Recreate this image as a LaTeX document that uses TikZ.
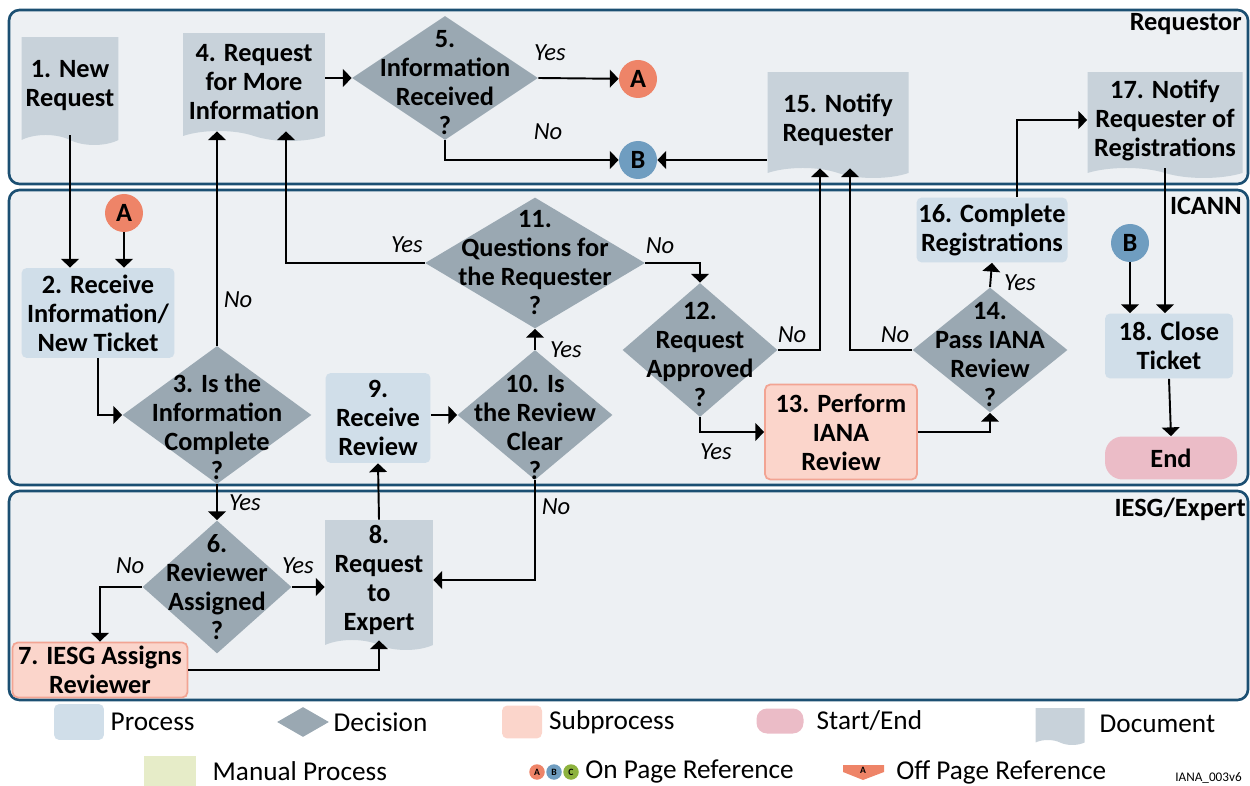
\documentclass[tikz,border=0pt]{standalone}
\usepackage{fontspec}
\setmainfont{Carlito}
\usetikzlibrary{shapes.geometric,shapes.symbols,arrows.meta,positioning}

\definecolor{lanefill}{HTML}{EDF0F3}
\definecolor{laneline}{HTML}{1B4F72}
\definecolor{procfill}{HTML}{D0DEE9}
\definecolor{docfill}{HTML}{C8D2DA}
\definecolor{decfill}{HTML}{9AA8B2}
\definecolor{subfill}{HTML}{FBD5CB}
\definecolor{subline}{HTML}{F2A493}
\definecolor{endfill}{HTML}{EBBCC7}
\definecolor{refA}{HTML}{EE8468}
\definecolor{refB}{HTML}{6F9DC0}
\definecolor{refC}{HTML}{8DB23E}
\definecolor{manfill}{HTML}{E6ECC8}

% diamond text: no size of its own, so the diamond keeps its given size
\newcommand{\dtext}[2][0pt]{\makebox[0pt]{\smash{\raisebox{\dimexpr-7.5pt-#1\relax}{\begin{tabular}{@{}c@{}}#2\end{tabular}}}}}

\tikzset{
	lane/.style={draw=laneline, line width=1.5pt, fill=lanefill, rounded corners=6pt},
	box/.style={font=\fontsize{15}{16.5}\selectfont\bfseries, align=center, inner sep=1pt},
	proc/.style={box, fill=procfill, rounded corners=3pt},
	doc/.style={box, tape, tape bend top=none, tape bend bottom=out and in, tape bend height=0.2cm, fill=docfill},
	dec/.style={diamond, fill=decfill, inner sep=0pt, font=\fontsize{15}{16.5}\selectfont\bfseries},
	sub/.style={box, fill=subfill, draw=subline, line width=1pt, rounded corners=3pt},
	term/.style={box, fill=endfill, rounded corners=10pt},
	ref/.style={circle, font=\fontsize{15}{16}\selectfont\bfseries, minimum size=0.76cm, inner sep=0pt},
	minref/.style={circle, font=\fontsize{5.5}{6}\selectfont\bfseries, minimum size=0.31cm, inner sep=0pt},
	yn/.style={font=\fontsize{14}{16}\selectfont\itshape, inner sep=1pt},
	flow/.style={line width=1.1pt, -{Triangle[width=10pt,length=5pt]}},
	lanetitle/.style={font=\fontsize{15}{16}\selectfont\bfseries, anchor=east, inner sep=0pt},
	legtext/.style={font=\fontsize{15.5}{17}\selectfont, inner sep=0pt}
}

\begin{document}
\begin{tikzpicture}[x=0.02cm,y=-0.02cm]
	\useasboundingbox (0,0) rectangle (1250,786);
	% swim lanes
	\draw[lane] (9,10) rectangle (1248,184);
	\draw[lane] (9,190) rectangle (1248,485);
	\draw[lane] (9,491) rectangle (1248,700);
	\node[lanetitle] (tReq) at (1242,24) {Requestor};
	\node[lanetitle] (tIcann) at (1242,206) {ICANN};
	\node[lanetitle] (tIesg) at (1246,509) {IESG/Expert};

	% Requestor
	\node[doc, minimum width=1.94cm, minimum height=2.16cm] (n1) at (70,86) {1. New\\Request};
	\node[doc, minimum width=2.84cm, minimum height=2.16cm] (n4) at (254,82) {4. Request\\for More\\Information};
	\node[dec, minimum width=3.72cm, minimum height=2.48cm] (n5) at (445,78) {\dtext{5.\\Information\\Received\\?}};
	\node[ref, fill=refA] (rA) at (638,79) {A};
	\node[ref, fill=refB] (rB) at (638,160) {B};
	\node[doc, minimum width=2.82cm, minimum height=2.12cm] (n15) at (838,120) {15. Notify\\Requester};
	\node[doc, minimum width=3.1cm, minimum height=2.12cm] (n17) at (1165,120) {17. Notify\\Requester of\\Registrations};

	% ICANN
	\node[ref, fill=refA] (rA2) at (124,213) {A};
	\node[proc, minimum width=3.06cm, minimum height=1.8cm] (n2) at (98,313) {2. Receive\\Information/\\New Ticket};
	\node[dec, minimum width=3.78cm, minimum height=2.76cm] (n3) at (217,415) {\dtext[4.5pt]{3. Is the\\Information\\Complete\\?}};
	\node[proc, minimum width=2.1cm, minimum height=1.8cm] (n9) at (378,418) {9.\\Receive\\Review};
	\node[dec, minimum width=3.1cm, minimum height=2.6cm] (n10) at (535,415) {\dtext[4.5pt]{10. Is\\the Review\\Clear\\?}};
	\node[dec, minimum width=4.4cm, minimum height=2.62cm] (n11) at (535,263) {\dtext[-2.5pt]{11.\\Questions for\\the Requester\\?}};
	\node[dec, minimum width=3.1cm, minimum height=2.68cm] (n12) at (700,350) {\dtext{12.\\Request\\Approved\\?}};
	\node[sub, minimum width=3.04cm, minimum height=1.9cm] (n13) at (841,432) {13. Perform\\IANA\\Review};
	\node[dec, minimum width=3.1cm, minimum height=2.5cm] (n14) at (990,350) {\dtext{14.\\Pass IANA\\Review\\?}};
	\node[proc, minimum width=3.02cm, minimum height=1.3cm] (n16) at (992,230) {16. Complete\\Registrations};
	\node[ref, fill=refB] (rB2) at (1130,243) {B};
	\node[proc, minimum width=2.56cm, minimum height=1.3cm] (n18) at (1169,346) {18. Close\\Ticket};
	\node[term, minimum width=2.64cm, minimum height=0.86cm] (nEnd) at (1171,458) {End};

	% IESG/Expert
	\node[dec, minimum width=2.98cm, minimum height=2.66cm] (n6) at (217,587) {\dtext[-2pt]{6.\\Reviewer\\Assigned\\?}};
	\node[sub, minimum width=3.5cm, minimum height=1.1cm] (n7) at (100,670) {7. IESG Assigns\\Reviewer};
	\node[doc, minimum width=2.16cm, minimum height=2.6cm] (n8) at (379,580) {8.\\Request\\to\\Expert};

	% flow
	\draw[flow] (n1.south) -- (n1.south |- n2.north);
	\draw[flow] (rA2) -- (rA2 |- n2.north);
	\draw[flow] (n2.south) |- (n3.west);
	\draw[flow] (n3.north) -- (n3.north |- n4.south);
	\draw[flow] (n11.west) -| ([xshift=0.64cm]n4.south);
	\draw[flow] (n4.east |- n5.west) -- (n5.west);
	\draw[flow] (n5.east) -- (rA);
	\draw[flow] (n5.south) |- (rB);
	\draw[flow] (n15.west |- rB) -- (rB);
	\draw[flow] (n3.south) -- (n6.north);
	\draw[flow] (n6.east) -- (n6.east -| n8.west);
	\draw[flow] (n6.west) -| (n7.north);
	\draw[flow] (n7.east) -| (n8.south);
	\draw[flow] (n8.north) -- (n9.south);
	\draw[flow] (n9.east |- n10.west) -- (n10.west);
	\draw[flow] (n10.north) -- (n11.south);
	\draw[flow] (n10.south) |- (n8.east);
	\draw[flow] (n11.east) -| (n12.north);
	\draw[flow] (n12.east) -| ([xshift=-0.36cm]n15.south);
	\draw[flow] (n12.south) |- (n13.west);
	\draw[flow] (n13.east) -| (n14.south);
	\draw[flow] (n14.west) -| ([xshift=0.24cm]n15.south);
	\draw[flow] (n14.north) -- (n16.south);
	\draw[flow] ([xshift=0.5cm]n16.north) |- (n17.west);
	\draw[flow] (n17.south) -- (n17.south |- n18.north);
	\draw[flow] (rB2) -- (rB2 |- n18.north);
	\draw[flow] (n18.south) -- (nEnd.north);

	% yes / no
	\node[yn] (yes5) at (550,53) {Yes};
	\node[yn] (no5) at (548,132) {No};
	\node[yn] (no3) at (238,300) {No};
	\node[yn] (yes3) at (245,503) {Yes};
	\node[yn] (yes11) at (407,245) {Yes};
	\node[yn] (no11) at (660,246) {No};
	\node[yn] (yes10) at (566,350) {Yes};
	\node[yn] (no10) at (556,507) {No};
	\node[yn] (no12) at (792,335) {No};
	\node[yn] (yes12) at (716,452) {Yes};
	\node[yn] (no14) at (895,335) {No};
	\node[yn] (yes14) at (1020,283) {Yes};
	\node[yn] (no6) at (130,566) {No};
	\node[yn] (yes6) at (298,566) {Yes};

	% legend
	\node[proc, minimum width=1.0cm, minimum height=0.72cm] (kProc) at (79,722) {};
	\node[legtext, right=0.12cm of kProc] (tProc) {Process};
	\node[dec, minimum width=1.04cm, minimum height=0.6cm] (kDec) at (303,722) {};
	\node[legtext, right=0.08cm of kDec] (tDec) {Decision};
	\node[sub, draw=none, minimum width=0.8cm, minimum height=0.66cm] (kSub) at (522,722) {};
	\node[legtext, right=0.12cm of kSub] (tSub) {Subprocess};
	\node[term, rounded corners=6pt, minimum width=0.94cm, minimum height=0.5cm] (kTerm) at (780,721) {};
	\node[legtext, right=0.25cm of kTerm] (tTerm) {Start/End};
	\node[doc, minimum width=0.98cm, minimum height=0.74cm, tape bend height=0.1cm] (kDoc) at (1060,724) {};
	\node[legtext, right=0.29cm of kDoc] (tDoc) {Document};
	\node[fill=manfill, minimum width=1.04cm, minimum height=0.62cm] (kMan) at (170,771) {};
	\node[legtext, right=0.32cm of kMan] (tMan) {Manual Process};
	\node[minref, fill=refA] (kA) at (537,772) {A};
	\node[minref, fill=refB] (kB) at (554,772) {B};
	\node[minref, fill=refC] (kC) at (571,772) {C};
	\node[legtext, right=0.12cm of kC] (tOn) {On Page Reference};
	\fill[refA] (843,765) -- (884,765) -- (884,772) -- (863,780) -- (843,772) -- cycle;
	\node[minref] (kOff) at (863,770) {A};
	\node[legtext, anchor=west] (tOff) at (896,772) {Off Page Reference};
	\node[font=\fontsize{7.5}{8}\selectfont, anchor=east, inner sep=0pt] (tTag) at (1242,778) {IANA\_003v6};
\end{tikzpicture}
\end{document}
